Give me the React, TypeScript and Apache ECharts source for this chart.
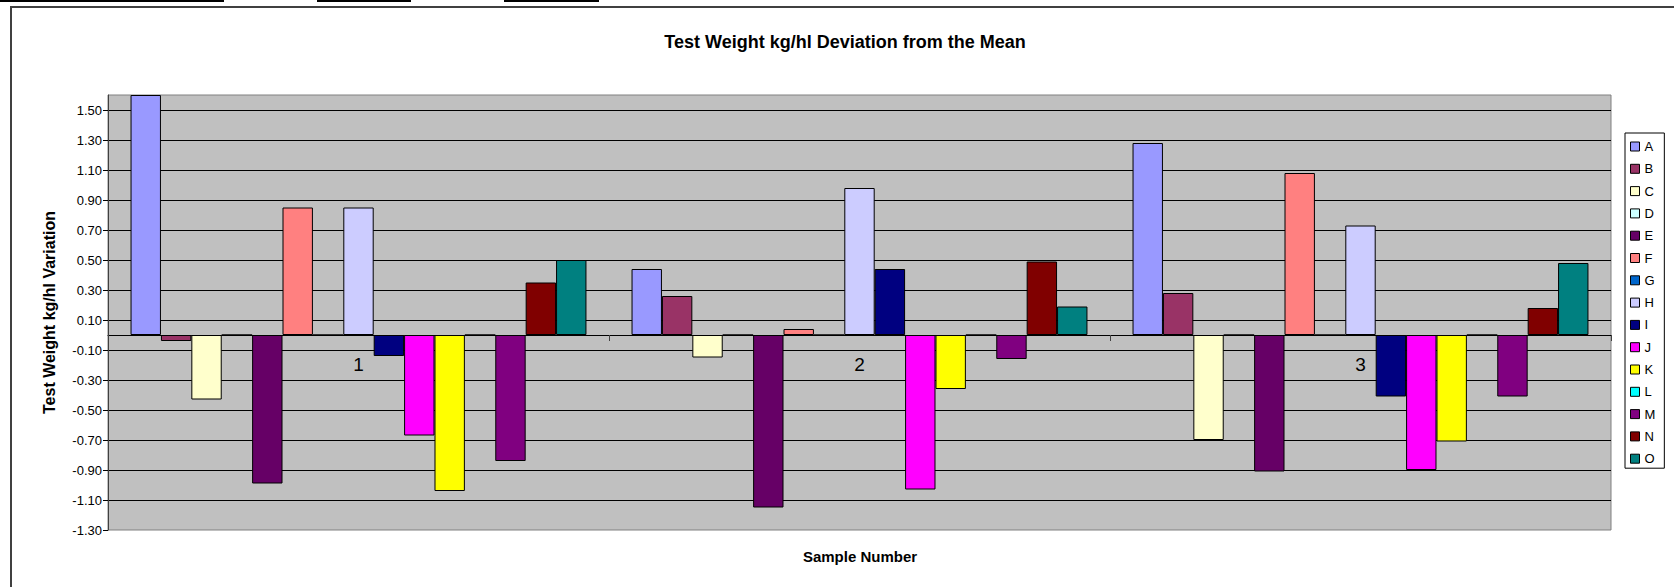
import React, { useEffect, useRef } from "react";
import * as echarts from "echarts";

const FONT = '"Liberation Sans", Arial, sans-serif';

const categories = ["1", "2", "3"];
const seriesNames = ["A", "B", "C", "D", "E", "F", "G", "H", "I", "J", "K", "L", "M", "N", "O"];

const A = [1.6, 0.44, 1.28];
const B = [-0.04, 0.26, 0.28];
const C = [-0.43, -0.15, -0.7];
const D = [0, 0, 0];
const E = [-0.99, -1.15, -0.91];
const F = [0.85, 0.04, 1.08];
const G = [0, 0, 0];
const H = [0.85, 0.98, 0.73];
const I = [-0.14, 0.44, -0.41];
const J = [-0.67, -1.03, -0.9];
const K = [-1.04, -0.36, -0.71];
const L = [0, 0, 0];
const M = [-0.84, -0.16, -0.41];
const N = [0.35, 0.49, 0.18];
const O = [0.5, 0.19, 0.48];

const seriesValues = [A, B, C, D, E, F, G, H, I, J, K, L, M, N, O];

const seriesColors = [
  "#9999FF", "#993366", "#FFFFCC", "#CCFFFF", "#660066",
  "#FF8080", "#0066CC", "#CCCCFF", "#000080", "#FF00FF",
  "#FFFF00", "#00FFFF", "#800080", "#800000", "#008080",
];

const yMin = -1.3;
const yMax = 1.6;
const yInterval = 0.2;

const CHART_W = 1674;
const CHART_H = 587;
const GRID = { left: 108, right: 63, top: 95, bottom: 57 };
const plotHeight = CHART_H - GRID.top - GRID.bottom;
// move the category axis up from the plot bottom to the value 0
const zeroOffset = -((0 - yMin) / (yMax - yMin)) * plotHeight;

export default function App() {
  const ref = useRef<HTMLDivElement>(null);

  useEffect(() => {
    const chart = echarts.init(ref.current!, undefined, { renderer: "svg" });
    chart.setOption({
      animation: false,
      backgroundColor: "#ffffff",
      title: [
        {
          text: "Test Weight kg/hl Deviation from the Mean",
          left: 845,
          top: 33,
          padding: 0,
          textAlign: "center",
          textStyle: { fontFamily: FONT, fontWeight: "bold", fontSize: 18, color: "#000" },
        },
      ],
      legend: {
        data: seriesNames,
        orient: "vertical",
        left: 1625,
        top: 133,
        padding: [7, 9, 3, 5],
        itemWidth: 9,
        itemHeight: 9,
        itemGap: 9.3,
        icon: "rect",
        borderColor: "#000",
        borderWidth: 1,
        backgroundColor: "#fff",
        itemStyle: { borderColor: "#000", borderWidth: 1 },
        textStyle: { fontFamily: FONT, fontSize: 13, color: "#000", lineHeight: 13 },
      },
      grid: {
        left: GRID.left,
        right: GRID.right,
        top: GRID.top,
        bottom: GRID.bottom,
        show: true,
        backgroundColor: "#C0C0C0",
        borderColor: "#808080",
        borderWidth: 1,
        containLabel: false,
      },
      xAxis: {
        type: "category",
        data: categories,
        position: "bottom",
        offset: zeroOffset,
        axisLine: { onZero: false, lineStyle: { color: "#000", width: 1 } },
        axisTick: { show: true, length: 6, lineStyle: { color: "#404040" } },
        axisLabel: { fontFamily: FONT, fontSize: 19, color: "#000", margin: 20 },
        splitLine: { show: false },
      },
      yAxis: {
        type: "value",
        min: yMin,
        max: yMax,
        interval: yInterval,
        name: "Test Weight kg/hl Variation",
        nameLocation: "middle",
        nameGap: 51,
        nameRotate: 90,
        nameTextStyle: { fontFamily: FONT, fontWeight: "bold", fontSize: 16, color: "#000" },
        axisLine: { show: true, lineStyle: { color: "#404040", width: 1 } },
        axisTick: { show: true, length: 5, lineStyle: { color: "#000" } },
        axisLabel: {
          fontFamily: FONT,
          fontSize: 13,
          color: "#000",
          margin: 6,
          showMaxLabel: false,
          formatter: (v: number) => v.toFixed(2),
        },
        splitLine: {
          show: true,
          showMinLine: false,
          showMaxLine: false,
          lineStyle: { color: "#000", width: 1 },
        },
      },
      graphic: [
        { type: "rect", shape: { x: 0, y: 0, width: 224, height: 2 }, style: { fill: "#000" } },
        { type: "rect", shape: { x: 317, y: 0, width: 94, height: 2 }, style: { fill: "#000" } },
        { type: "rect", shape: { x: 504, y: 0, width: 95, height: 2 }, style: { fill: "#000" } },
        {
          type: "polyline",
          shape: { points: [[11, 587], [11, 7], [1674, 7]] },
          style: { stroke: "#404040", lineWidth: 2, fill: null },
        },
        {
          type: "text",
          x: 860,
          y: 556,
          style: {
            text: "Sample Number",
            font: `bold 15px ${FONT}`,
            fill: "#000",
            align: "center",
            verticalAlign: "middle",
            textAlign: "center",
            textVerticalAlign: "middle",
          },
        },
      ],
      series: seriesNames.map((name, i) => ({
        name,
        type: "bar",
        data: seriesValues[i],
        barGap: "0%",
        barCategoryGap: "9%",
        itemStyle: { color: seriesColors[i], borderColor: "#000", borderWidth: 1 },
      })),
    });
    return () => chart.dispose();
  }, []);

  return (
    <div
      ref={ref}
      style={{ position: "absolute", left: 0, top: 0, width: CHART_W, height: CHART_H, background: "#fff" }}
    />
  );
}
